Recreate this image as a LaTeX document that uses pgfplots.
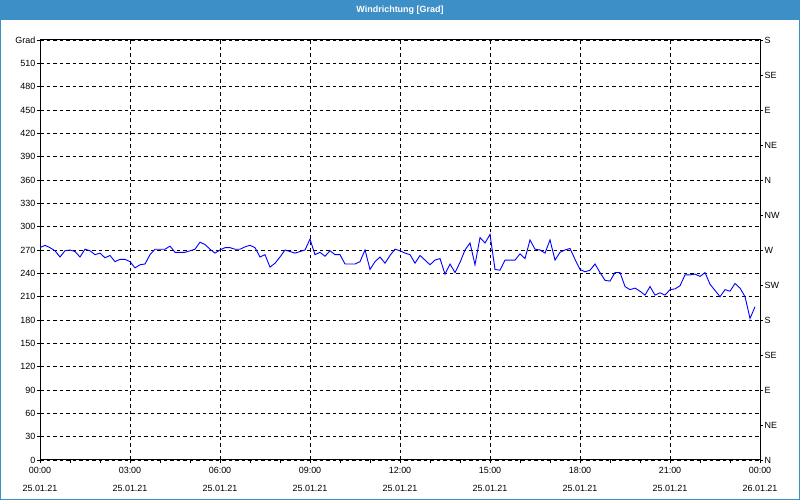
\documentclass[border=0pt]{standalone}
\usepackage{pgfplots}
\pgfplotsset{compat=1.18}
\usepackage{fontspec}
\setmainfont{Liberation Sans}
\definecolor{barblue}{RGB}{61,144,199}
\begin{document}
\begin{tikzpicture}[x=1bp,y=1bp]
\fill[white] (0,0) rectangle (800,500);
\fill[barblue] (0,480) rectangle (800,500);
\draw[barblue, line width=1bp] (0.5,0.5) rectangle (799.5,499.5);
\node[white, font=\bfseries\fontsize{9}{10}\selectfont] at (400,490) {Windrichtung [Grad]};
\begin{axis}[
  at={(40bp,40bp)}, anchor=south west,
  width=720bp, height=420bp, scale only axis,
  xmin=0, xmax=144, ymin=0, ymax=540,
  xtick={0,18,...,144},
  xticklabels={{00:00\\[7bp]25.01.21},{03:00\\[7bp]25.01.21},{06:00\\[7bp]25.01.21},{09:00\\[7bp]25.01.21},{12:00\\[7bp]25.01.21},{15:00\\[7bp]25.01.21},{18:00\\[7bp]25.01.21},{21:00\\[7bp]25.01.21},{00:00\\[7bp]26.01.21}},
  minor x tick num=2,
  ytick={0,30,...,540},
  yticklabels={0,30,60,90,120,150,180,210,240,270,300,330,360,390,420,450,480,510,\raisebox{-4bp}{Grad}},
  xtick pos=bottom, ytick pos=left,
  tick align=outside,
  major tick length=3bp, minor tick length=3bp,
  tick style={black, line width=0.8bp},
  xmajorgrids, ymajorgrids,
  major grid style={black, line width=0.8bp, dash pattern=on 3.5bp off 3bp},
  axis line style={black, line width=1bp},
  ticklabel style={font=\fontsize{9}{11}\selectfont, inner sep=1.5bp},
  xticklabel style={align=center, yshift=-3bp},
]
\addplot[blue, line width=0.9bp] coordinates {
(0,273) (1,276) (2,273) (3,269) (4,261) (5,269) (6,270) (7,268) (8,261) (9,271)
(10,269) (11,264) (12,266) (13,260) (14,263) (15,255) (16,258) (17,258) (18,255) (19,247)
(20,251) (21,252) (22,264) (23,271) (24,271) (25,271) (26,275) (27,267) (28,267) (29,267)
(30,269) (31,271) (32,280) (33,277) (34,271) (35,266) (36,270) (37,273) (38,273) (39,271)
(40,271) (41,274) (42,276) (43,273) (44,261) (45,264) (46,248) (47,253) (48,261) (49,270)
(50,268) (51,266) (52,268) (53,270) (54,284) (55,264) (56,267) (57,262) (58,269) (59,264)
(60,264) (61,252) (62,252) (63,252) (64,255) (65,270) (66,245) (67,255) (68,261) (69,253)
(70,263) (71,271) (72,269) (73,266) (74,264) (75,253) (76,263) (77,257) (78,251) (79,257)
(80,259) (81,239) (82,252) (83,241) (84,254) (85,270) (86,279) (87,251) (88,286) (89,279)
(90,290) (91,245) (92,244) (93,257) (94,257) (95,257) (96,265) (97,259) (98,283) (99,271)
(100,270) (101,266) (102,283) (103,257) (104,267) (105,270) (106,272) (107,258) (108,245) (109,242)
(110,244) (111,252) (112,241) (113,231) (114,230) (115,241) (116,241) (117,223) (118,219) (119,221)
(120,217) (121,212) (122,223) (123,212) (124,215) (125,212) (126,219) (127,220) (128,224) (129,238)
(130,238) (131,239) (132,236) (133,241) (134,226) (135,218) (136,210) (137,219) (138,217) (139,227)
(140,221) (141,210) (142,182) (143,197)
};
\end{axis}
\begin{axis}[
  at={(40bp,40bp)}, anchor=south west,
  width=720bp, height=420bp, scale only axis,
  xmin=0, xmax=144, ymin=0, ymax=540,
  hide x axis,
  axis y line*=right,
  ytick={0,45,...,540},
  yticklabels={N,NE,E,SE,S,SW,W,NW,N,NE,E,SE,S},
  tick align=outside,
  major tick length=3bp,
  tick style={black, line width=0.8bp},
  axis line style={black, line width=1bp},
  yticklabel style={font=\fontsize{9}{11}\selectfont, inner sep=1.5bp},
]
\end{axis}
\end{tikzpicture}
\end{document}
